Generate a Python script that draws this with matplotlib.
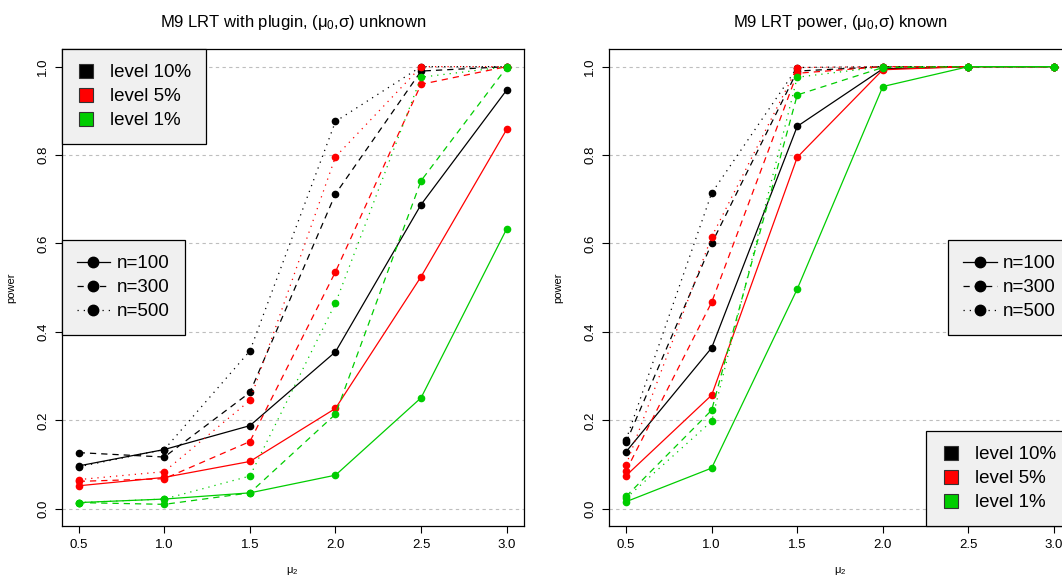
import matplotlib
matplotlib.use("Agg")
import matplotlib.pyplot as plt
from matplotlib.lines import Line2D

plt.rcParams['font.family'] = ['Liberation Sans', 'DejaVu Sans']
plt.rcParams['mathtext.fontset'] = 'custom'
plt.rcParams['mathtext.rm'] = 'Liberation Sans'
plt.rcParams['mathtext.it'] = 'Liberation Sans'

mu2 = [0.5, 1.0, 1.5, 2.0, 2.5, 3.0]
sample_sizes = ['n=100', 'n=300', 'n=500']
level_labels = ['level 10%', 'level 5%', 'level 1%']

# panel 1: (mu0, sigma) unknown, plugin LRT
unk_l10_n100 = [0.097, 0.134, 0.188, 0.355, 0.688, 0.947]
unk_l10_n300 = [0.127, 0.117, 0.263, 0.712, 0.990, 1.000]
unk_l10_n500 = [0.095, 0.134, 0.357, 0.876, 1.000, 1.000]
unk_l5_n100 = [0.052, 0.071, 0.107, 0.227, 0.525, 0.858]
unk_l5_n300 = [0.062, 0.068, 0.152, 0.536, 0.960, 1.000]
unk_l5_n500 = [0.066, 0.084, 0.245, 0.796, 1.000, 1.000]
unk_l1_n100 = [0.014, 0.022, 0.036, 0.076, 0.251, 0.633]
unk_l1_n300 = [0.014, 0.010, 0.036, 0.214, 0.742, 0.998]
unk_l1_n500 = [0.014, 0.022, 0.074, 0.465, 0.976, 1.000]

# panel 2: (mu0, sigma) known
kn_l10_n100 = [0.129, 0.364, 0.865, 0.995, 1.000, 1.000]
kn_l10_n300 = [0.150, 0.600, 0.990, 1.000, 1.000, 1.000]
kn_l10_n500 = [0.156, 0.714, 0.998, 1.000, 1.000, 1.000]
kn_l5_n100 = [0.075, 0.257, 0.795, 0.993, 1.000, 1.000]
kn_l5_n300 = [0.086, 0.467, 0.985, 1.000, 1.000, 1.000]
kn_l5_n500 = [0.099, 0.615, 0.998, 1.000, 1.000, 1.000]
kn_l1_n100 = [0.016, 0.092, 0.497, 0.955, 1.000, 1.000]
kn_l1_n300 = [0.028, 0.223, 0.936, 0.998, 1.000, 1.000]
kn_l1_n500 = [0.024, 0.198, 0.976, 1.000, 1.000, 1.000]

colors = ['black', '#FF0000', '#00CD00']
styles = ['-', (0, (5, 4)), (0, (1, 4))]
legend_bg = '#F0F0F0'


def draw_panel(ax, series, title):
    for y in [0, 0.2, 0.4, 0.6, 0.8, 1.0]:
        ax.axhline(y, color='#BEBEBE', lw=0.8, ls=(0, (3, 3)), zorder=0)
    for li, col in enumerate(colors):
        for ni, ls in enumerate(styles):
            ax.plot(mu2, series[li][ni], color=col, ls=ls, lw=0.9,
                    marker='o', ms=4.5, mec=col, zorder=2)
    ax.set_xlim(0.4, 3.1)
    ax.set_ylim(-0.04, 1.04)
    ax.set_xticks(mu2)
    ax.set_xticklabels(['0.5', '1.0', '1.5', '2.0', '2.5', '3.0'])
    ax.set_yticks([0, 0.2, 0.4, 0.6, 0.8, 1.0])
    ax.set_yticklabels(['0.0', '0.2', '0.4', '0.6', '0.8', '1.0'],
                       rotation=90, va='center')
    ax.tick_params(direction='out', length=5, width=0.8, labelsize=9.5, pad=4)
    for sp in ax.spines.values():
        sp.set_linewidth(0.9)
        sp.set_color('black')
    ax.set_title(title, fontsize=12, pad=16)
    ax.set_xlabel('μ$_2$', fontsize=8, labelpad=10)
    ax.set_ylabel('power', fontsize=8, labelpad=15)


def level_legend(ax, loc):
    handles = [Line2D([], [], ls='none', marker='s', ms=9.5, mfc=c, mec='#333333', mew=0.8)
               for c in colors]
    leg = ax.legend(handles, level_labels, loc=loc, borderaxespad=0, fontsize=13.5,
                    frameon=True, fancybox=False, framealpha=1, edgecolor='black',
                    facecolor=legend_bg, handlelength=1.0, handletextpad=0.8,
                    labelspacing=0.37, borderpad=0.8)
    leg.get_frame().set_linewidth(0.9)
    return leg


def n_legend(ax, loc):
    handles = [Line2D([], [], color='black', ls=ls, lw=0.9, marker='o', ms=7.5)
               for ls in styles]
    leg = ax.legend(handles, sample_sizes, loc=loc, borderaxespad=0, fontsize=13.5,
                    frameon=True, fancybox=False, framealpha=1, edgecolor='black',
                    facecolor=legend_bg, handlelength=1.8, handletextpad=0.35,
                    labelspacing=0.37, borderpad=0.8)
    leg.get_frame().set_linewidth(0.9)
    return leg


fig = plt.figure(figsize=(10.62, 5.76), dpi=100)
ax1 = fig.add_axes([0.058, 0.086, 0.4352, 0.829])
ax2 = fig.add_axes([0.5734, 0.086, 0.4352, 0.829])

draw_panel(ax1, [[unk_l10_n100, unk_l10_n300, unk_l10_n500],
                 [unk_l5_n100, unk_l5_n300, unk_l5_n500],
                 [unk_l1_n100, unk_l1_n300, unk_l1_n500]],
           'M9 LRT with plugin, (μ$_0$,σ) unknown')
draw_panel(ax2, [[kn_l10_n100, kn_l10_n300, kn_l10_n500],
                 [kn_l5_n100, kn_l5_n300, kn_l5_n500],
                 [kn_l1_n100, kn_l1_n300, kn_l1_n500]],
           'M9 LRT power, (μ$_0$,σ) known')

ax1.add_artist(level_legend(ax1, 'upper left'))
n_legend(ax1, 'center left')
ax2.add_artist(n_legend(ax2, 'center right'))
level_legend(ax2, 'lower right')

fig.savefig('out.png', dpi=100)
